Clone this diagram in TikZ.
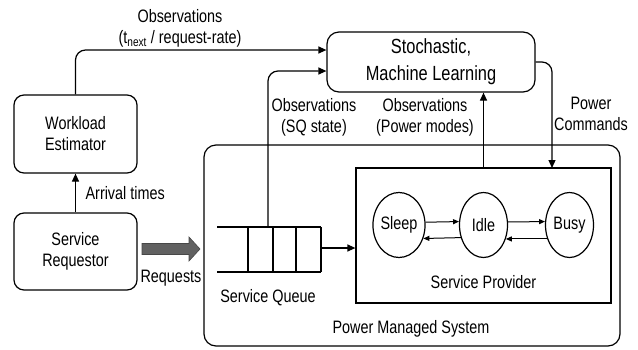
\documentclass[tikz,border=0pt]{standalone}
\usepackage{fontspec}
\setmainfont[FakeStretch=0.8]{Liberation Sans}
\usetikzlibrary{arrows.meta,shapes.geometric,calc}
\begin{document}
\begin{tikzpicture}[x=1pt,y=-1pt,
  line width=1.2pt,
  txt/.style={font=\fontsize{18}{21}\selectfont, align=center, inner sep=0pt},
  rbox/.style={draw, rounded corners=10pt, minimum width=123pt, minimum height=78pt, txt},
  state/.style={draw, ellipse, minimum height=65pt, inner sep=0pt, txt},
  arr/.style={-{Triangle[length=8pt,width=7pt]}},
  sarr/.style={line width=1pt,-{Triangle[length=6pt,width=5pt]}},
  conn/.style={arr, rounded corners=10pt}
]
\useasboundingbox (0,0) rectangle (638,349);

% boxes
\node[rbox] (we) at (75.5,134) {Workload\\Estimator};
\node[rbox, minimum height=77pt] (sr) at (75.5,251.5) {Service\\Requestor};
\node[draw, rounded corners=12pt, minimum width=208pt, minimum height=60pt, align=center, inner sep=0pt,
      font=\fontsize{20.5}{27}\selectfont] (ml) at (431,62) {Stochastic,\\Machine Learning};
\node[draw, rounded corners=12pt, minimum width=416pt, minimum height=201pt] (pms) at (412,245.5) {};
\node[draw, minimum width=255pt, minimum height=135pt] (sp) at (483.5,235.5) {};

% states
\node[state, minimum width=52pt] (sleep) at (399,225) {Sleep};
\node[state, minimum width=48pt] (idle) at (483.5,225) {Idle};
\node[state, minimum width=48pt] (busy) at (569.5,225) {Busy};
\draw[sarr] (sleep.6.6) -- (idle.172.8);
\draw[sarr] (idle.209.4) -- (sleep.331.4);
\draw[sarr] (idle.7.2) -- (busy.172.8);
\draw[sarr] (busy.212) -- (idle.328);

% service queue
\coordinate (qtl) at (217,227);
\coordinate (qbl) at (217,272);
\coordinate (qtr) at (321,227);
\coordinate (qbr) at (321,272);
\draw (qtl) -- (qtr);
\draw (qbl) -- (qbr);
\foreach \xx in {248,273,296,321} \draw (\xx,227) -- (\xx,272);

% requests arrow
\fill[fill=black!62, draw=black!72, line width=0.6pt]
  (142,243.5) -- (189,243.5) -- (189,237) -- (200,249) -- (189,261) -- (189,254.5) -- (142,254.5) -- cycle;

% connectors
\draw[conn] (we.north) |- ([yshift=12pt]ml.west);
\draw[arr] (sr.north) -- (we.south);
\coordinate (sqo) at (268,227);
\draw[conn] (sqo) |- ([yshift=-9pt]ml.west);
\draw[arr] (sp.north) -- (sp.north |- ml.south);
\coordinate (pci) at (552,168);
\draw[conn] (ml.east) -| (pci);
\coordinate (qo) at (321,248);
\draw[arr] (qo) -- (qo -| sp.west);

% labels
\node[txt] (lobs) at (180,28.6) {Observations\\(t\textsubscript{next} / request-rate)};
\node[txt, anchor=base west] (larr) at (85,199.5) {Arrival times};
\node[txt] (lsq) at (314,117.6) {Observations\\(SQ state)};
\node[txt] (lpm) at (425,117.6) {Observations\\(Power modes)};
\node[txt] (lpc) at (591,114) {Power\\Commands};
\node[txt, anchor=base] (lreq) at (171,282) {Requests};
\node[txt, anchor=base] (lsqn) at (268,302) {Service Queue};
\node[txt, anchor=base] (lsp) at (483.5,288) {Service Provider};
\node[txt, anchor=base] (lpms) at (411,333) {Power Managed System};
\end{tikzpicture}
\end{document}
